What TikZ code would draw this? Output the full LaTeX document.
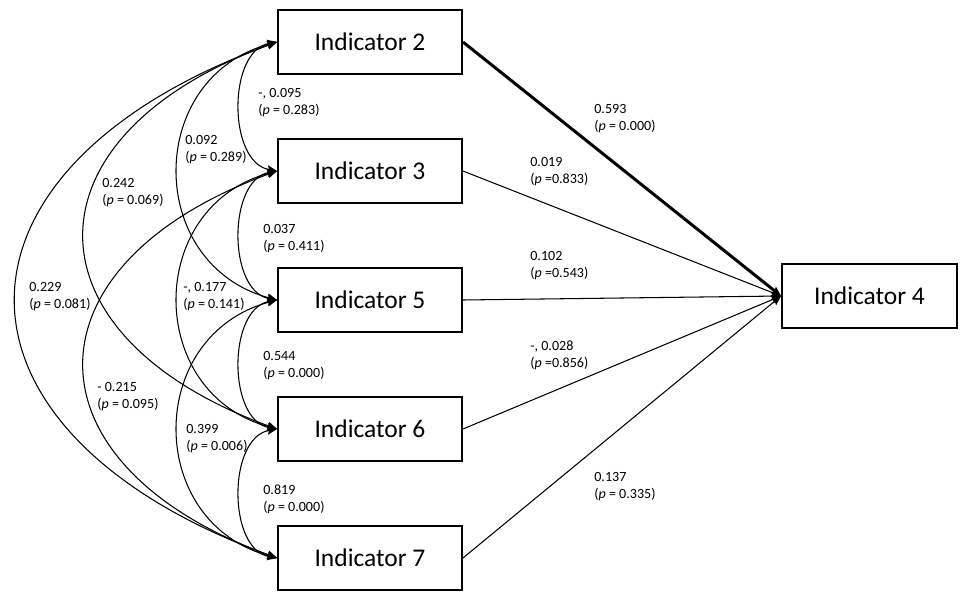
\documentclass[tikz,border=0pt]{standalone}
\usepackage{fontspec}
\setmainfont{Carlito}
\usetikzlibrary{arrows.meta}
\tikzset{>={Stealth[length=5.5pt, width=4.5pt, inset=0.8pt]}}

\begin{document}
\begin{tikzpicture}[
    ind/.style={draw, line width=1.1pt, minimum width=3.68cm, minimum height=1.28cm, font=\fontsize{14.5}{17}\selectfont},
    coef/.style={anchor=north west, align=left, inner sep=0pt, font=\fontsize{8}{9.6}\selectfont},
    cov/.style={<->, line width=0.6pt},
    reg/.style={->, line width=0.6pt}]
    \useasboundingbox (0,0) rectangle (19.22,-11.84);
    \node[ind] (I2) at (7.40,-0.84) {Indicator 2};
    \node[ind] (I3) at (7.40,-3.42) {Indicator 3};
    \node[ind] (I5) at (7.40,-6.00) {Indicator 5};
    \node[ind] (I6) at (7.40,-8.58) {Indicator 6};
    \node[ind] (I7) at (7.40,-11.16) {Indicator 7};
    \node[ind, minimum width=3.5cm] (I4) at (17.39,-5.92) {Indicator 4};
    \draw[cov] (I2.west) to[out=190, in=170, looseness=1] (I3.west);
    \draw[cov] (I3.west) to[out=190, in=170, looseness=1] (I5.west);
    \draw[cov] (I5.west) to[out=190, in=170, looseness=1] (I6.west);
    \draw[cov] (I6.west) to[out=190, in=170, looseness=1] (I7.west);
    \draw[cov] (I2.west) to[out=195, in=165, looseness=1.36] (I5.west);
    \draw[cov] (I3.west) to[out=195, in=165, looseness=1.36] (I6.west);
    \draw[cov] (I5.west) to[out=195, in=165, looseness=1.36] (I7.west);
    \draw[cov] (I2.west) to[out=200, in=160, looseness=1.81] (I6.west);
    \draw[cov] (I3.west) to[out=200, in=160, looseness=1.81] (I7.west);
    \draw[cov] (I2.west) to[out=200, in=160, looseness=1.84] (I7.west);
    \draw[reg, line width=1.7pt] (I2.east) -- (I4.west);
    \draw[reg] (I3.east) -- (I4.west);
    \draw[reg] (I5.east) -- (I4.west);
    \draw[reg] (I6.east) -- (I4.west);
    \draw[reg] (I7.east) -- (I4.west);
    \node[coef] (c23) at (5.16,-1.76) {-, 0.095\\(\textit{p} = 0.283)};
    \node[coef] (c25) at (3.70,-2.70) {0.092\\(\textit{p} = 0.289)};
    \node[coef] (c26) at (2.04,-3.56) {0.242\\(\textit{p} = 0.069)};
    \node[coef] (c35) at (5.26,-4.48) {0.037\\(\textit{p} = 0.411)};
    \node[coef] (c27) at (0.58,-5.64) {0.229\\(\textit{p} = 0.081)};
    \node[coef] (c36) at (3.66,-5.64) {-, 0.177\\(\textit{p} = 0.141)};
    \node[coef] (c56) at (5.26,-7.02) {0.544\\(\textit{p} = 0.000)};
    \node[coef] (c37) at (1.94,-7.64) {- 0.215\\(\textit{p} = 0.095)};
    \node[coef] (c57) at (3.72,-8.48) {0.399\\(\textit{p} = 0.006)};
    \node[coef] (c67) at (5.26,-9.70) {0.819\\(\textit{p} = 0.000)};
    \node[coef] (b2) at (11.88,-2.08) {0.593\\(\textit{p} = 0.000)};
    \node[coef] (b3) at (10.60,-3.14) {0.019\\(\textit{p} =0.833)};
    \node[coef] (b5) at (10.60,-5.02) {0.102\\(\textit{p} =0.543)};
    \node[coef] (b6) at (10.60,-6.82) {-, 0.028\\(\textit{p} =0.856)};
    \node[coef] (b7) at (11.88,-9.44) {0.137\\(\textit{p} = 0.335)};
\end{tikzpicture}
\end{document}
